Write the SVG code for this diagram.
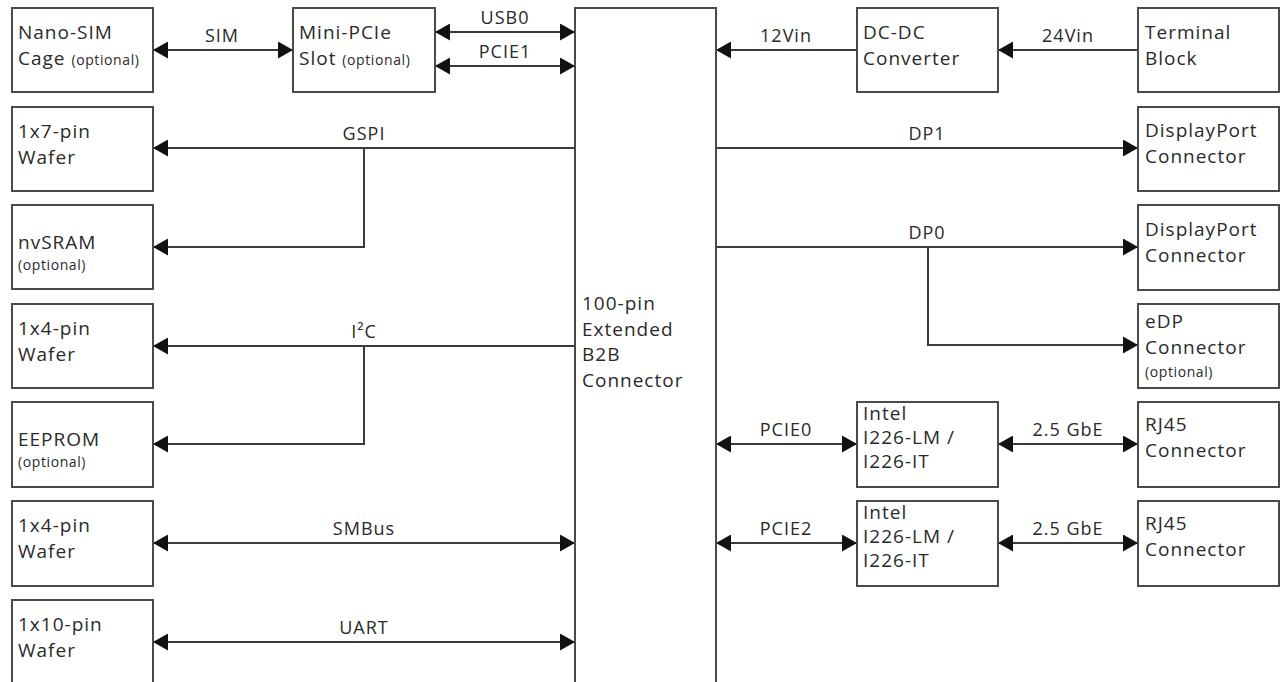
<svg xmlns="http://www.w3.org/2000/svg" width="1282" height="682" viewBox="0 0 1282 682">
<style>
.box{fill:#fff;stroke:#4a4a4a;stroke-width:2}
.t{font-family:"Open Sans","DejaVu Sans",sans-serif;font-size:19px;letter-spacing:1px;fill:#2a2a2a}
.s{font-size:14px;letter-spacing:0.6px}
.l{font-family:"Open Sans","DejaVu Sans",sans-serif;font-size:18px;letter-spacing:1px;fill:#2a2a2a;text-anchor:middle}
.c{fill:none;stroke:#3a3a3a;stroke-width:2}
.a1{marker-end:url(#arr)}
.a2{marker-start:url(#arr);marker-end:url(#arr)}
</style>
<defs>
<marker id="arr" viewBox="0 0 15 17" refX="15" refY="8.5" markerWidth="15" markerHeight="17" markerUnits="userSpaceOnUse" orient="auto-start-reverse">
<path d="M0,0 L15,8.5 L0,17 z" fill="#111"/>
</marker>
</defs>
<rect width="1282" height="682" fill="#fff"/>

<g id="connectors">
<path class="c a2" d="M153,50 H293"/>
<path class="c a2" d="M435,32 H575"/>
<path class="c a2" d="M435,66 H575"/>
<path class="c a1" d="M857,50 H716"/>
<path class="c a1" d="M1138,50 H998"/>
<path class="c a1" d="M575,148 H153"/>
<path class="c a1" d="M364,148 V247 H153"/>
<path class="c a1" d="M575,346 H153"/>
<path class="c a1" d="M364,346 V444 H153"/>
<path class="c a2" d="M153,543 H575"/>
<path class="c a2" d="M153,642 H575"/>
<path class="c a1" d="M716,148 H1138"/>
<path class="c a1" d="M716,247 H1138"/>
<path class="c a1" d="M928,247 V345 H1138"/>
<path class="c a2" d="M716,444 H857"/>
<path class="c a2" d="M716,543 H857"/>
<path class="c a2" d="M998,444 H1138"/>
<path class="c a2" d="M998,543 H1138"/>
<text class="l" x="222" y="42">SIM</text>
<text class="l" x="505" y="24">USB0</text>
<text class="l" x="505" y="58">PCIE1</text>
<text class="l" x="786" y="42">12Vin</text>
<text class="l" x="1068" y="42">24Vin</text>
<text class="l" x="364" y="140">GSPI</text>
<text class="l" x="364" y="338">I²C</text>
<text class="l" x="364" y="535">SMBus</text>
<text class="l" x="364" y="634">UART</text>
<text class="l" x="927" y="140">DP1</text>
<text class="l" x="927" y="239">DP0</text>
<text class="l" x="786" y="436">PCIE0</text>
<text class="l" x="786" y="535">PCIE2</text>
<text class="l" x="1068" y="436">2.5 GbE</text>
<text class="l" x="1068" y="535">2.5 GbE</text>
</g>

<g id="nano-sim">
<rect class="box" x="12" y="8" width="141" height="84"/>
<text class="t" x="18" y="39">Nano-SIM</text>
<text class="t" x="18" y="65">Cage <tspan class="s">(optional)</tspan></text>
</g>
<g id="mini-pcie">
<rect class="box" x="293" y="8" width="142" height="84"/>
<text class="t" x="299" y="39">Mini-PCIe</text>
<text class="t" x="299" y="65">Slot <tspan class="s">(optional)</tspan></text>
</g>
<g id="b2b">
<rect class="box" x="575" y="8" width="141" height="690"/>
<text class="t" x="582" y="310">100-pin</text>
<text class="t" x="582" y="336">Extended</text>
<text class="t" x="582" y="361">B2B</text>
<text class="t" x="582" y="387">Connector</text>
</g>
<g id="dcdc">
<rect class="box" x="857" y="8" width="141" height="84"/>
<text class="t" x="863" y="39">DC-DC</text>
<text class="t" x="863" y="65">Converter</text>
</g>
<g id="terminal">
<rect class="box" x="1138" y="8" width="141" height="84"/>
<text class="t" x="1145" y="39">Terminal</text>
<text class="t" x="1145" y="65">Block</text>
</g>
<g id="wafer7">
<rect class="box" x="12" y="107" width="141" height="84"/>
<text class="t" x="18" y="138">1x7-pin</text>
<text class="t" x="18" y="164">Wafer</text>
</g>
<g id="nvsram">
<rect class="box" x="12" y="205" width="141" height="84"/>
<text class="t" x="18" y="249">nvSRAM</text>
<text class="t s" x="18" y="270">(optional)</text>
</g>
<g id="wafer4a">
<rect class="box" x="12" y="304" width="141" height="84"/>
<text class="t" x="18" y="335">1x4-pin</text>
<text class="t" x="18" y="361">Wafer</text>
</g>
<g id="eeprom">
<rect class="box" x="12" y="402" width="141" height="85"/>
<text class="t" x="18" y="446">EEPROM</text>
<text class="t s" x="18" y="467">(optional)</text>
</g>
<g id="wafer4b">
<rect class="box" x="12" y="501" width="141" height="85"/>
<text class="t" x="18" y="532">1x4-pin</text>
<text class="t" x="18" y="558">Wafer</text>
</g>
<g id="wafer10">
<rect class="box" x="12" y="600" width="141" height="90"/>
<text class="t" x="18" y="631">1x10-pin</text>
<text class="t" x="18" y="657">Wafer</text>
</g>
<g id="dp1">
<rect class="box" x="1138" y="107" width="141" height="84"/>
<text class="t" x="1145" y="137">DisplayPort</text>
<text class="t" x="1145" y="163">Connector</text>
</g>
<g id="dp0">
<rect class="box" x="1138" y="205" width="141" height="85"/>
<text class="t" x="1145" y="236">DisplayPort</text>
<text class="t" x="1145" y="262">Connector</text>
</g>
<g id="edp">
<rect class="box" x="1138" y="304" width="141" height="84"/>
<text class="t" x="1145" y="328">eDP</text>
<text class="t" x="1145" y="354">Connector</text>
<text class="t s" x="1145" y="377">(optional)</text>
</g>
<g id="intel0">
<rect class="box" x="857" y="402" width="141" height="85"/>
<text class="t" x="863" y="420">Intel</text>
<text class="t" x="863" y="444">I226-LM /</text>
<text class="t" x="863" y="468">I226-IT</text>
</g>
<g id="intel2">
<rect class="box" x="857" y="501" width="141" height="85"/>
<text class="t" x="863" y="519">Intel</text>
<text class="t" x="863" y="543">I226-LM /</text>
<text class="t" x="863" y="567">I226-IT</text>
</g>
<g id="rj45a">
<rect class="box" x="1138" y="402" width="141" height="85"/>
<text class="t" x="1145" y="431">RJ45</text>
<text class="t" x="1145" y="457">Connector</text>
</g>
<g id="rj45b">
<rect class="box" x="1138" y="501" width="141" height="85"/>
<text class="t" x="1145" y="530">RJ45</text>
<text class="t" x="1145" y="556">Connector</text>
</g>
</svg>
